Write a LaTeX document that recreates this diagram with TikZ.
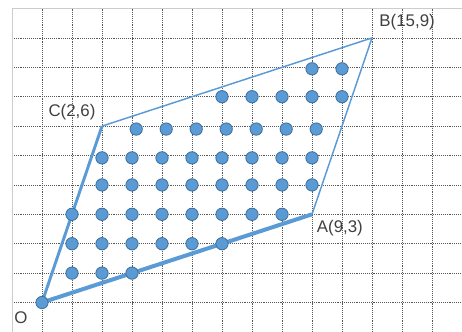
\documentclass[tikz,border=0pt]{standalone}
\usepackage{fontspec}
\setmainfont{Liberation Sans}
\usepackage{tikz}

\definecolor{lineblue}{HTML}{5B9BD5}
\definecolor{dotedge}{HTML}{41719C}
\definecolor{labelgray}{HTML}{404040}

\begin{document}
\begin{tikzpicture}[x=1cm, y=0.98cm,
  gridline/.style={black!65, line width=0.6pt, dash pattern=on 0.9pt off 0.9pt},
  latticept/.style={circle, fill=lineblue, draw=dotedge, line width=0.8pt, inner sep=0pt, minimum size=0.41cm},
  vertexlbl/.style={text=labelgray, font=\fontsize{16}{18}\selectfont, inner sep=1pt}]
\useasboundingbox (-1.4,-1.0) rectangle (14,10.29);
% grid
\foreach \gx in {0,...,13} \draw[gridline] (\gx,-1.0) -- (\gx,10);
\foreach \gy in {0,...,9} \draw[gridline] (-1,\gy) -- (14,\gy);
\draw[black!20, line width=0.8pt] (-1,-1.0) -- (-1,10) -- (14,10);
% corners of the parallelogram
\coordinate (O) at (0,0);
\coordinate (A) at (9,3);
\coordinate (C) at (2,6);
\coordinate (B) at (11,9);
\draw[lineblue, line width=3.8pt] (O) -- (A);
\draw[lineblue, line width=2.8pt] (O) -- (C);
\draw[lineblue, line width=1.4pt, line join=round] (C) -- (B) -- (A);
% lattice points
\node[latticept] (p0-0) at (O) {};
\foreach \px in {1,2,3} \node[latticept] (p\px-1) at (\px,1) {};
\foreach \px in {1,...,6} \node[latticept] (p\px-2) at (\px,2) {};
\foreach \px in {1,...,8} \node[latticept] (p\px-3) at (\px,3) {};
\foreach \px in {2,...,9} \node[latticept] (p\px-4) at (\px,4) {};
\foreach \px in {2,...,9} \node[latticept] (p\px-5) at (\px,4.92) {};
\foreach \px in {3,...,9} \node[latticept] (p\px-6) at (\px+0.14,5.9) {};
\foreach \px in {6,...,10} \node[latticept] (p\px-7) at (\px,7) {};
\foreach \px in {9,10} \node[latticept] (p\px-8) at (\px,7.95) {};
% labels
\node[vertexlbl] (labO) at (-0.7,-0.53) {O};
\node[vertexlbl] (labA) at (9.93,2.53) {A(9,3)};
\node[vertexlbl] (labC) at (1.0,6.48) {C(2,6)};
\node[vertexlbl] (labB) at (12.17,9.54) {B(15,9)};
\end{tikzpicture}
\end{document}
